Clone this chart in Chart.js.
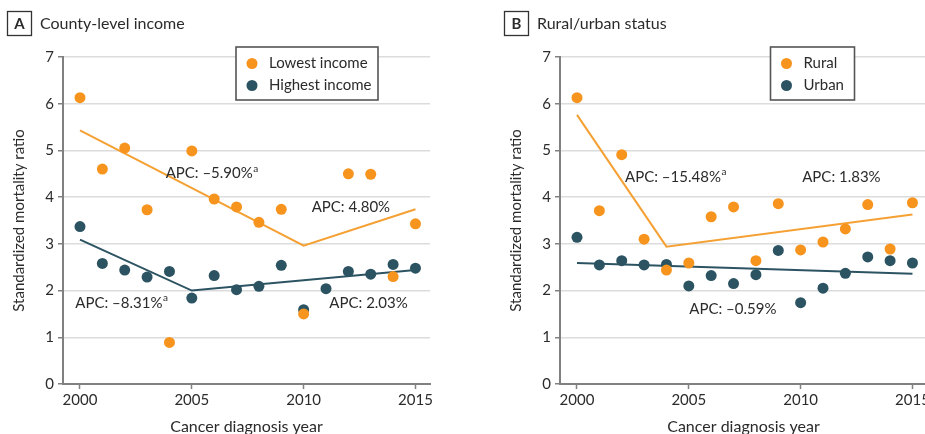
<!DOCTYPE html>
<html><head><meta charset="utf-8">
<script src="https://cdn.jsdelivr.net/npm/chart.js@4/dist/chart.umd.min.js"></script>
<style>
html,body{margin:0;padding:0;background:#fff;overflow:hidden;width:925px;height:434px;position:relative}
#wa{position:absolute;left:0;top:0;width:460px;height:434px}
#wb{position:absolute;left:460px;top:0;width:480px;height:434px}
</style></head><body>
<div id="wa"><canvas id="ca"></canvas></div>
<div id="wb"><canvas id="cb"></canvas></div>
<script>
// ---- data ----
const years = [2000,2001,2002,2003,2004,2005,2006,2007,2008,2009,2010,2011,2012,2013,2014,2015];
const xTicks = [2000,2005,2010,2015];
const yTicks = [0,1,2,3,4,5,6,7];

const lowestIncome  = [6.13,4.60,5.05,3.73,0.89,4.99,3.96,3.79,3.46,3.74,1.50,null,4.50,4.49,2.30,3.43];
const highestIncome = [3.37,2.58,2.44,2.29,2.41,1.84,2.32,2.02,2.09,2.54,1.59,2.04,2.41,2.35,2.56,2.48];
const lowestTrendYears  = [2000,2010,2015];
const lowestTrend       = [5.43,2.96,3.74];
const highestTrendYears = [2000,2005,2015];
const highestTrend      = [3.09,2.00,2.44];

const rural = [6.13,3.71,4.91,3.10,2.44,2.59,3.58,3.79,2.64,3.86,2.87,3.04,3.32,3.84,2.89,3.88];
const urban = [3.14,2.55,2.64,2.55,2.56,2.10,2.32,2.15,2.34,2.86,1.74,2.05,2.37,2.72,2.64,2.59];
const ruralTrendYears = [2000,2004,2015];
const ruralTrend      = [5.76,2.94,3.63];
const urbanTrendYears = [2000,2015];
const urbanTrend      = [2.59,2.36];

const apcA = [
  {text:'APC: \u20135.90%', sup:'a', x:2003.83, y:4.51},
  {text:'APC: 4.80%', sup:'', x:2010.36, y:3.78},
  {text:'APC: \u20138.31%', sup:'a', x:1999.79, y:1.74},
  {text:'APC: 2.03%', sup:'', x:2011.15, y:1.73}
];
const apcB = [
  {text:'APC: \u201315.48%', sup:'a', x:2002.15, y:4.43},
  {text:'APC: 1.83%', sup:'', x:2010.07, y:4.43},
  {text:'APC: \u20130.59%', sup:'', x:2005.02, y:1.61}
];

// ---- styles ----
const ORANGE = '#F7941E';
const ORANGE_LINE = '#F5A033';
const DARK = '#2C5362';
const TEXT = '#2b2b2b';
const AXIS = '#808080';
const GRID = '#dcdcdc';
const FONT = 'Lato';

function pts(xs, ys){ return xs.map((x,i)=>({x:x, y:ys[i]})); }

const panelPlugin = {
  id:'panelDeco',
  afterDraw(chart, args, o){
    const ctx = chart.ctx;
    const xs = chart.scales.x, ys = chart.scales.y;
    ctx.save();
    // panel letter box
    ctx.strokeStyle = '#333'; ctx.lineWidth = 1.3;
    ctx.strokeRect(o.boxX, 11.5, 24, 24);
    ctx.fillStyle = TEXT;
    ctx.font = 'bold 15px ' + FONT;
    ctx.textAlign = 'center'; ctx.textBaseline = 'middle';
    ctx.fillText(o.letter, o.boxX + 12, 24);
    ctx.font = '16px ' + FONT;
    ctx.textAlign = 'left';
    ctx.fillText(o.title, o.boxX + 32.5, 23.5);
    // legend
    const L = o.legend;
    ctx.fillStyle = '#fff';
    ctx.fillRect(L.x, L.y, L.w, L.h);
    ctx.strokeStyle = '#555'; ctx.lineWidth = 1.6;
    ctx.strokeRect(L.x, L.y, L.w, L.h);
    const ds = chart.data.datasets;
    ctx.font = '15px ' + FONT;
    [0,1].forEach(i=>{
      const cy = L.y + 16.5 + i*22;
      ctx.fillStyle = ds[i].backgroundColor;
      ctx.beginPath(); ctx.arc(L.x + 16, cy, 5.5, 0, Math.PI*2); ctx.fill();
      ctx.fillStyle = TEXT;
      ctx.textAlign='left'; ctx.textBaseline='middle';
      ctx.fillText(ds[i].label, L.x + 33, cy);
    });
    // APC labels
    o.apc.forEach(a=>{
      const px = xs.getPixelForValue(a.x), py = ys.getPixelForValue(a.y);
      ctx.font = '15px ' + FONT;
      ctx.fillStyle = TEXT; ctx.textAlign='left'; ctx.textBaseline='middle';
      ctx.fillText(a.text, px, py);
      if (a.sup) {
        const w = ctx.measureText(a.text).width;
        ctx.font = '10px ' + FONT;
        ctx.fillText(a.sup, px + w + 0.5, py - 5);
      }
    });
    ctx.restore();
  }
};

function makeChart(id, cfg){
  const f = {family: FONT, size: 15};
  const ft = {family: FONT, size: 16};
  return new Chart(document.getElementById(id), {
    type:'scatter',
    data:{datasets:[
      {label:cfg.names[0], data:pts(years, cfg.s1), backgroundColor:ORANGE, borderColor:ORANGE, borderWidth:0, pointRadius:5.5, pointHoverRadius:5.5, order:0},
      {label:cfg.names[1], data:pts(years, cfg.s2), backgroundColor:DARK, borderColor:DARK, borderWidth:0, pointRadius:5.5, pointHoverRadius:5.5, order:1},
      {type:'line', label:'t1', data:pts(cfg.t1x, cfg.t1y), borderColor:ORANGE_LINE, backgroundColor:ORANGE_LINE, borderWidth:2, pointRadius:0, fill:false, tension:0, order:2},
      {type:'line', label:'t2', data:pts(cfg.t2x, cfg.t2y), borderColor:DARK, backgroundColor:DARK, borderWidth:2, pointRadius:0, fill:false, tension:0, order:3}
    ]},
    options:{
      responsive:true, maintainAspectRatio:false, animation:false,
      layout:{padding:{left:cfg.padLeft, right:cfg.padRight, top:57, bottom:0}},
      plugins:{legend:{display:false}, tooltip:{enabled:false}, panelDeco:cfg.deco},
      scales:{
        x:{type:'linear', min:1999.24, max:2015.65,
           afterBuildTicks:s=>{ s.ticks = xTicks.map(v=>({value:v})); },
           afterFit:s=>{ s.height = 50; },
           grid:{drawOnChartArea:false, tickLength:5, tickColor:AXIS, tickWidth:1.5},
           border:{color:AXIS, width:2},
           ticks:{font:f, color:TEXT, padding:2, maxRotation:0, autoSkip:false, callback:v=>String(v)},
           title:{display:true, text:'Cancer diagnosis year', font:ft, color:TEXT, padding:{top:4,bottom:-2}}
        },
        y:{min:0, max:7,
           afterBuildTicks:s=>{ s.ticks = yTicks.map(v=>({value:v})); },
           afterFit:s=>{ s.width = 63; },
           grid:{color:GRID, lineWidth:1.5, tickLength:5, tickColor:AXIS, tickWidth:1.5},
           border:{color:AXIS, width:2},
           ticks:{font:f, color:TEXT, padding:4, callback:v=>String(v)},
           title:{display:true, text:'Standardized mortality ratio', font:f, color:TEXT, padding:{top:10,bottom:4}}
        }
      }
    },
    plugins:[panelPlugin]
  });
}

makeChart('ca', {
  names:['Lowest income','Highest income'], s1:lowestIncome, s2:highestIncome,
  t1x:lowestTrendYears, t1y:lowestTrend, t2x:highestTrendYears, t2y:highestTrend,
  padLeft:0, padRight:30,
  deco:{letter:'A', title:'County-level income', boxX:7.5, legend:{x:236, y:47, w:142, h:53}, apc:apcA}
});
makeChart('cb', {
  names:['Rural','Urban'], s1:rural, s2:urban,
  t1x:ruralTrendYears, t1y:ruralTrend, t2x:urbanTrendYears, t2y:urbanTrend,
  padLeft:37, padRight:13,
  deco:{letter:'B', title:'Rural/urban status', boxX:44.5, legend:{x:310.5, y:47, w:84, h:53}, apc:apcB}
});
</script>
</body></html>
